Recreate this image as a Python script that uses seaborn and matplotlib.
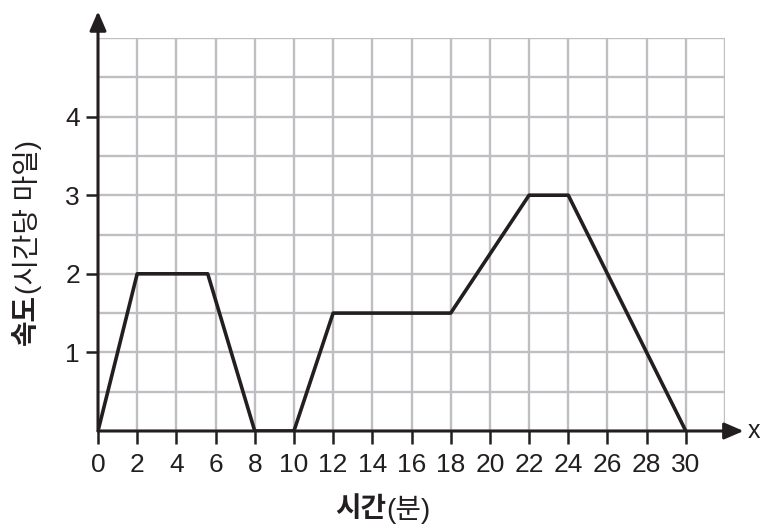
import numpy as np
import pandas as pd
import matplotlib
matplotlib.use("Agg")
import matplotlib.pyplot as plt
import seaborn as sns

# ----------------------------
# DATA
# ----------------------------
minutes = [0, 2, 5.6, 8, 10, 12, 18, 22, 24, 30]
speed = [0, 2, 2, 0, 0, 1.5, 1.5, 3, 3, 0]
x_ticks = list(range(0, 31, 2))
y_ticks = [1, 2, 3, 4]

df = pd.DataFrame({"minutes": minutes, "speed": speed})

# ----------------------------
# STYLE
# ----------------------------
sns.set_style("white")
plt.rcParams["font.family"] = ["Liberation Sans", "Noto Sans CJK KR"]

fig = plt.figure(figsize=(7.63, 5.31), dpi=100)
ax = fig.add_axes([98 / 763, 100 / 531, 627 / 763, 393 / 531])

sns.lineplot(data=df, x="minutes", y="speed", color="#231f20", lw=2.6,
             ax=ax, zorder=5, sort=False)

ax.set_xlim(0, 32)
ax.set_ylim(0, 5)

# grid
ax.set_xticks(x_ticks)
ax.set_xticks(np.arange(0, 33, 2), minor=True)
ax.set_yticks(y_ticks)
ax.set_yticks(np.arange(0, 5.01, 0.5), minor=True)
ax.grid(which="both", color="#bfbfc3", lw=1.7)
ax.set_axisbelow(True)

ax.tick_params(which="minor", length=0)
ax.tick_params(which="major", bottom=True, left=True, direction="out",
               length=9, width=1.8, color="#231f20",
               labelsize=19, labelcolor="#231f20")
ax.tick_params(axis="x", pad=7)
ax.tick_params(axis="y", pad=4)

for s in ax.spines.values():
    s.set_visible(False)

# axis arrows
arrow = dict(arrowstyle="-|>,head_length=0.58,head_width=0.25", color="#231f20",
             lw=2.2, shrinkA=0, shrinkB=0, mutation_scale=20)
ax.annotate("", xy=(32.95, 0), xytext=(0, 0), arrowprops=arrow,
            annotation_clip=False, zorder=6)
ax.annotate("", xy=(0, 5.34), xytext=(0, 0), arrowprops=arrow,
            annotation_clip=False, zorder=6)
ax.text(33.15, 0, "x", fontsize=18, va="center", ha="left",
        color="#231f20", clip_on=False)

ax.set_xlabel("")
ax.set_ylabel("")

# labels (bold + regular parts)
fig.text(386 / 763, 1 - 510 / 531, "시간", fontsize=20, fontweight="bold",
         ha="right", va="center", color="#231f20")
fig.text(386 / 763, 1 - 510 / 531, "(분)", fontsize=20,
         ha="left", va="center", color="#231f20")
fig.text(27 / 763, 1 - 294 / 531, "속도", fontsize=20, fontweight="bold",
         rotation=90, ha="center", va="top", color="#231f20")
fig.text(27 / 763, 1 - 294 / 531, "(시간당 마일)", fontsize=20,
         rotation=90, ha="center", va="bottom", color="#231f20")

fig.savefig("out.png", dpi=100)
